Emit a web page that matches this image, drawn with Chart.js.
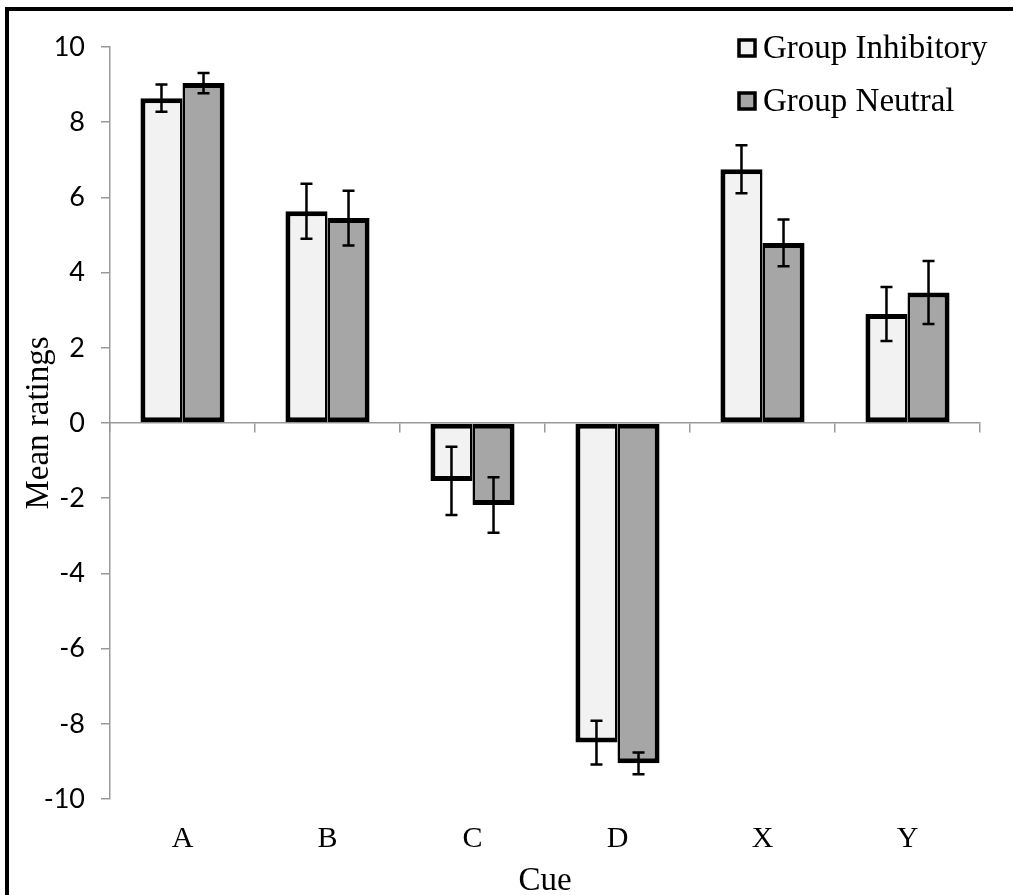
<!DOCTYPE html>
<html>
<head>
<meta charset="utf-8">
<script src="https://cdn.jsdelivr.net/npm/chart.js@4/dist/chart.umd.min.js"></script>
<style>
  html, body { margin: 0; padding: 0; background: #fff; overflow: hidden; }
  #wrap { width: 1013px; height: 895px; }
</style>
</head>
<body>
<div id="wrap"><canvas id="chart"></canvas></div>
<script>
const cues = ["A", "B", "C", "D", "X", "Y"];
const inhibitory = [8.64, 5.63, -1.54, -8.50, 6.75, 2.90];
const inhibitoryErr = [0.36, 0.73, 0.91, 0.58, 0.64, 0.72];
const neutral = [9.04, 5.45, -2.18, -9.05, 4.79, 3.47];
const neutralErr = [0.27, 0.73, 0.74, 0.29, 0.62, 0.84];
const yTicks = [-10, -8, -6, -4, -2, 0, 2, 4, 6, 8, 10];

const serif = "'Liberation Serif', 'Times New Roman', serif";
const axisGrey = "#999999";

// frame around the figure (only left + top edges show in the picture)
const framePlugin = {
  id: "frame",
  beforeDraw(chart) {
    const ctx = chart.ctx;
    ctx.save();
    ctx.fillStyle = "#fff";
    ctx.fillRect(0, 0, chart.width, chart.height);
    ctx.strokeStyle = "#000";
    ctx.lineWidth = 4;
    ctx.beginPath();
    ctx.moveTo(7, chart.height + 5);
    ctx.lineTo(7, 9);
    ctx.lineTo(chart.width + 5, 9);
    ctx.stroke();
    ctx.restore();
  },
};

const errorBarPlugin = {
  id: "errorBars",
  afterDatasetsDraw(chart) {
    const ctx = chart.ctx;
    const y = chart.scales.y;
    const errs = [inhibitoryErr, neutralErr];
    ctx.save();
    ctx.strokeStyle = "#000";
    ctx.lineWidth = 2.5;
    chart.data.datasets.forEach((ds, i) => {
      chart.getDatasetMeta(i).data.forEach((bar, j) => {
        const v = ds.data[j];
        const top = y.getPixelForValue(v + errs[i][j]);
        const bot = y.getPixelForValue(v - errs[i][j]);
        const cap = 6;
        ctx.beginPath();
        ctx.moveTo(bar.x, top);
        ctx.lineTo(bar.x, bot);
        ctx.moveTo(bar.x - cap, top);
        ctx.lineTo(bar.x + cap, top);
        ctx.moveTo(bar.x - cap, bot);
        ctx.lineTo(bar.x + cap, bot);
        ctx.stroke();
      });
    });
    ctx.restore();
  },
};

const legendPlugin = {
  id: "cornerLegend",
  afterDraw(chart) {
    const ctx = chart.ctx;
    ctx.save();
    ctx.font = "33px " + serif;
    ctx.textBaseline = "alphabetic";
    chart.data.datasets.forEach((ds, i) => {
      const cy = 48 + i * 53;
      ctx.fillStyle = ds.backgroundColor;
      ctx.fillRect(739, cy - 8, 16, 16);
      ctx.strokeStyle = "#000";
      ctx.lineWidth = 3.5;
      ctx.strokeRect(739, cy - 8, 16, 16);
      ctx.fillStyle = "#000";
      ctx.fillText(ds.label, 763, cy + 10);
    });
    ctx.restore();
  },
};

new Chart(document.getElementById("chart"), {
  type: "bar",
  data: {
    labels: cues,
    datasets: [
      {
        label: "Group Inhibitory",
        data: inhibitory,
        backgroundColor: "#f2f2f2",
        borderColor: "#000",
        borderWidth: { top: 5, bottom: 5, left: 5, right: 2.5 },
        borderSkipped: false,
      },
      {
        label: "Group Neutral",
        data: neutral,
        backgroundColor: "#a6a6a6",
        borderColor: "#000",
        borderWidth: { top: 5, bottom: 5, left: 2.5, right: 5 },
        borderSkipped: false,
      },
    ],
  },
  options: {
    responsive: true,
    maintainAspectRatio: false,
    animation: false,
    categoryPercentage: 0.58,
    barPercentage: 1.0,
    layout: { padding: { top: 47, right: 33, left: 0, bottom: 0 } },
    plugins: {
      legend: { display: false },
      tooltip: { enabled: false },
    },
    scales: {
      x: {
        type: "category",
        position: { y: 0 },
        offset: true,
        ticks: { display: false },
        grid: {
          offset: true,
          drawOnChartArea: false,
          tickLength: 9,
          color: axisGrey,
          lineWidth: 1.5,
        },
        border: { color: axisGrey, width: 1.5 },
      },
      x2: {
        type: "category",
        axis: "x",
        position: "bottom",
        offset: true,
        grid: { display: false, drawTicks: false },
        border: { display: false },
        ticks: {
          color: "#000",
          font: { family: serif, size: 30 },
          padding: 22,
        },
        title: {
          display: true,
          text: "Cue",
          color: "#000",
          font: { family: serif, size: 33 },
          padding: { top: 0, bottom: -6 },
        },
        afterFit(scale) { scale.height = 96; },
      },
      y: {
        min: -10,
        max: 10,
        afterBuildTicks(scale) { scale.ticks = yTicks.map(v => ({ value: v })); },
        ticks: {
          color: "#000",
          font: { family: "Lato, 'Open Sans', sans-serif", size: 27 },
          padding: 16,
        },
        grid: {
          drawOnChartArea: false,
          tickLength: 9,
          color: axisGrey,
          lineWidth: 1.5,
        },
        border: { color: axisGrey, width: 1.5 },
        title: {
          display: true,
          text: "Mean ratings",
          color: "#000",
          font: { family: serif, size: 33 },
          padding: { top: 20, bottom: 0 },
        },
        afterFit(scale) { scale.width = 110; },
      },
    },
  },
  plugins: [framePlugin, errorBarPlugin, legendPlugin],
});
</script>
</body>
</html>
